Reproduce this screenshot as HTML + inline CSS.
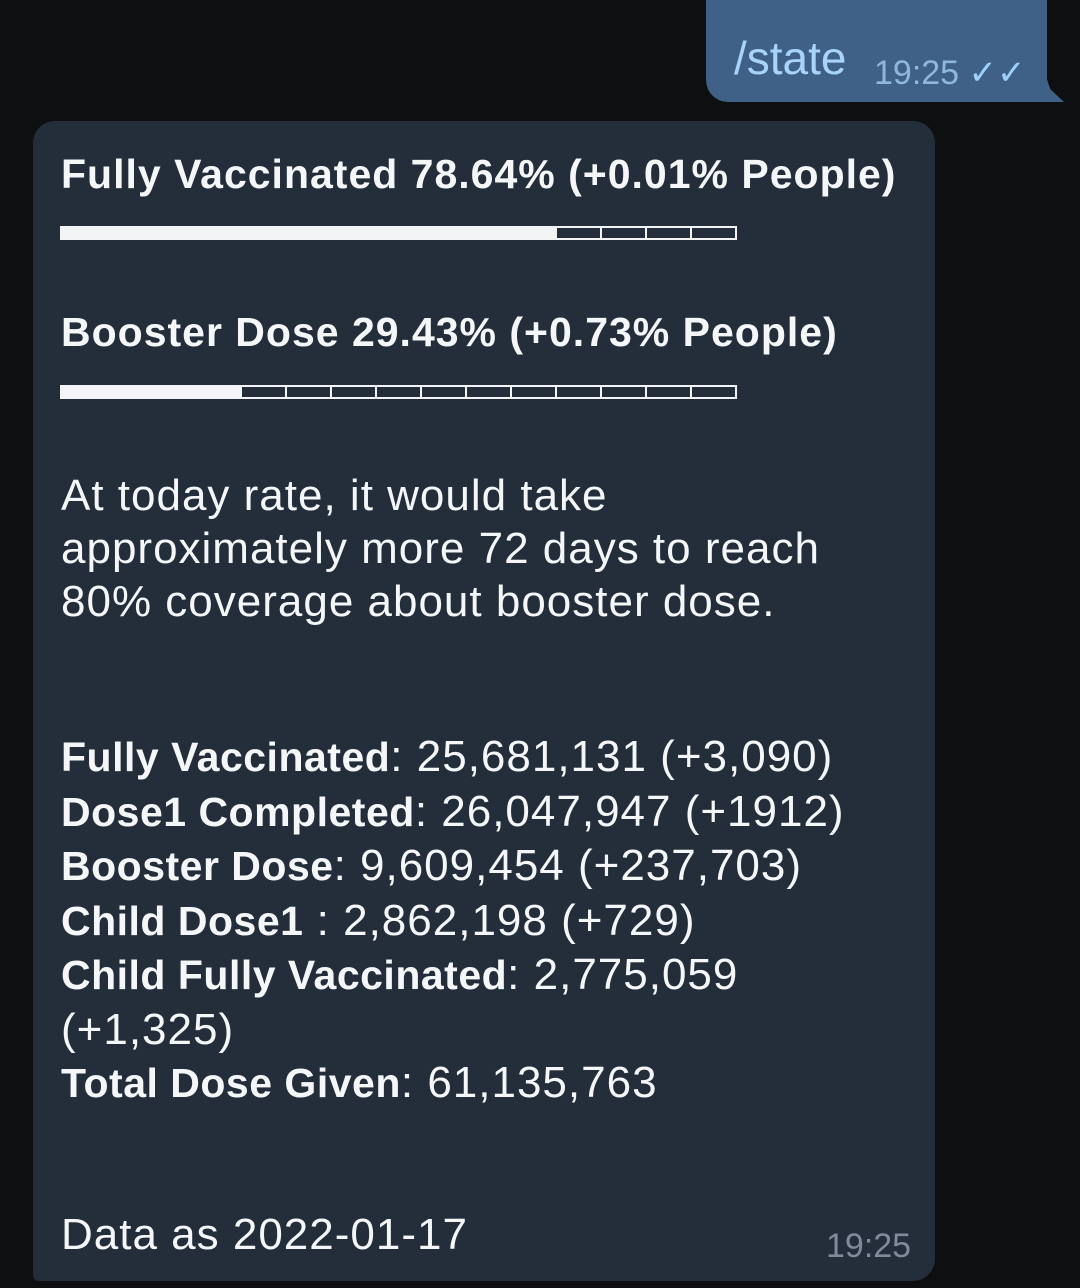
<!DOCTYPE html>
<html><head><meta charset="utf-8"><style>
body{margin:0;width:1080px;height:1288px;background:#0d0f10;overflow:hidden;font-family:"Liberation Sans",sans-serif;position:relative}
.out{position:absolute;left:706px;top:0;width:341px;height:102px;background:#3f6188;border-radius:0 0 22px 22px;border-bottom-right-radius:6px}
.tail{position:absolute;left:1030px;top:70px;width:34px;height:32px;background:#3f6188;clip-path:polygon(0 0,40% 0,60% 60%,100% 100%,0 100%)}
.cmd{position:absolute;left:734px;top:31px;font-size:46px;color:#a8d4fb}
.otime{position:absolute;left:874px;top:53px;font-size:34px;color:#8fb6dd}
.bub{position:absolute;left:33px;top:121px;width:902px;height:1160px;background:#232e3a;border-radius:22px;border-bottom-left-radius:6px;color:#f4f6f8}
.t{position:absolute;left:28px;white-space:nowrap}
.h{font-weight:bold;font-size:41px;letter-spacing:1px}
.n{font-size:44px;letter-spacing:1px}
.bar{position:absolute;left:27px;height:14px;display:flex}
.bar span{display:block;width:43px;height:10px;border:2px solid #f2f4f6;margin-right:-2px}
.bar span.f{background:#f2f4f6}
.itime{position:absolute;left:793px;top:1106px;font-size:34px;color:#7f8b98}
b{font-weight:bold;font-size:41px;letter-spacing:0.5px}
</style></head><body>
<div class="out"></div>
<div class="tail"></div>
<div class="cmd">/state</div>
<div class="otime">19:25 <span style="color:#9fd0fb">✓✓</span></div>
<div class="bub">
<div class="t h" style="top:30px">Fully Vaccinated 78.64% (+0.01% People)</div>
<div class="bar" style="top:105px" id="bar1"></div>
<div class="t h" style="top:188px">Booster Dose 29.43% (+0.73% People)</div>
<div class="bar" style="top:264px" id="bar2"></div>
<div class="t n" style="top:348px;line-height:53px">At today rate, it would take<br>approximately more 72 days to reach<br>80% coverage about booster dose.</div>
<div class="t n" style="top:609px;line-height:53.5px"><b>Fully Vaccinated</b>: 25,681,131 (+3,090)<br><b>Dose1 Completed</b>: 26,047,947 (+1912)<br><b>Booster Dose</b>: 9,609,454 (+237,703)<br><b>Child Dose1</b> : 2,862,198 (+729)<br><b>Child Fully Vaccinated</b>: 2,775,059<br>(+1,325)<br><b>Total Dose Given</b>: 61,135,763</div>
<div class="t n" style="top:1089px">Data as 2022-01-17</div>
<div class="itime">19:25</div>
</div>
<script>
const filled=[11,4];
const total=15;
['bar1','bar2'].forEach((id,i)=>{const b=document.getElementById(id);for(let k=0;k<total;k++){const s=document.createElement('span');


if(k<filled[i])s.className='f';b.appendChild(s);}});
</script>
</body></html>
